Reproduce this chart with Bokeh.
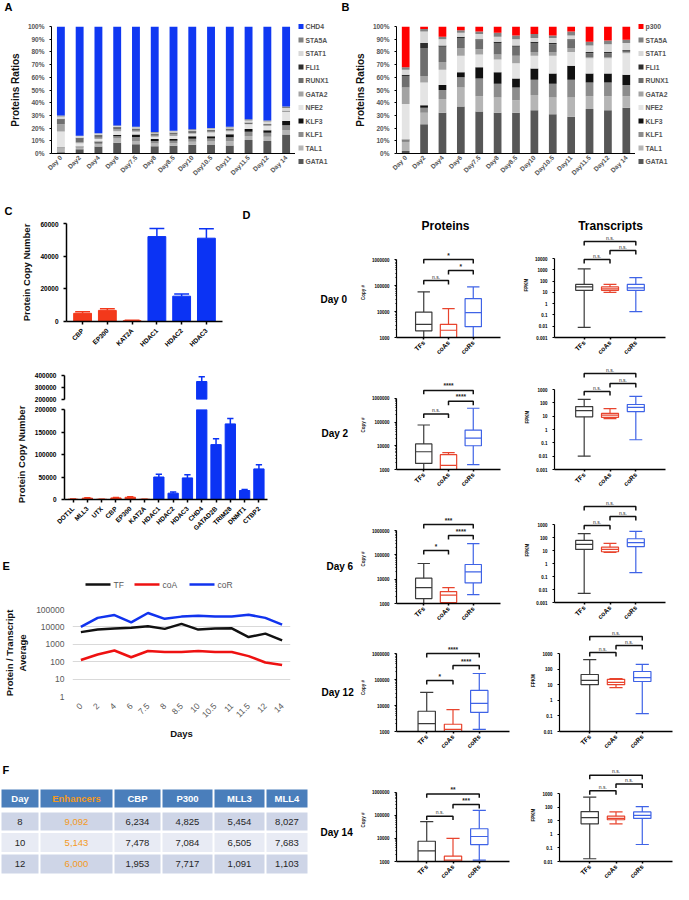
import math
from bokeh.plotting import figure
from bokeh.layouts import row, column
from bokeh.models import (Range1d, FactorRange, FixedTicker, CustomJSTickFormatter,
                          NumeralTickFormatter, Label, ColumnDataSource)
from bokeh.embed import file_html
from bokeh.resources import INLINE
from bokeh.core.properties import value

FONT = "Liberation Sans"

# ---------------- data : panels A / B ----------------
DAYS_AB = ["Day 0", "Day2", "Day4", "Day6", "Day7.5", "Day8", "Day8.5", "Day10",
           "Day10.5", "Day11", "Day11.5", "Day12", "Day 14"]
TF_NAMES = ["GATA1", "TAL1", "KLF1", "KLF3", "NFE2", "GATA2", "RUNX1", "FLI1", "STAT1", "STA5A"]
TF_COLORS = ["#575757", "#b5b5b5", "#8c8c8c", "#111111", "#e4e4e4", "#a3a3a3",
             "#6e6e6e", "#2e2e2e", "#d8d8d8", "#828282"]

A_GATA1 = [0.9, 3.3, 5.6, 8.4, 7.2, 5.7, 6.2, 6.9, 6.7, 6.3, 10.7, 9.9, 14.9]
A_TAL1 = [3.1, 1.3, 1.9, 3.4, 2.6, 2.1, 1.9, 2.4, 2.8, 3.3, 3.1, 3.2, 3.7]
A_KLF1 = [0.7, 0.6, 1.2, 1.8, 3.1, 2.0, 1.9, 2.4, 2.4, 3.1, 3.4, 3.2, 3.7]
A_KLF3 = [0.2, 0.3, 0.7, 0.9, 2.0, 1.6, 1.4, 1.8, 1.7, 2.4, 2.1, 2.0, 3.3]
A_NFE2 = [12.4, 2.6, 2.1, 3.0, 2.2, 1.8, 2.3, 2.0, 3.0, 2.4, 3.7, 3.5, 7.0]
A_GATA2 = [5.7, 0.7, 1.0, 1.4, 0.9, 0.7, 1.2, 0.6, 0.6, 0.7, 0.3, 0.3, 0.4]
A_RUNX1 = [4.0, 3.1, 2.1, 1.8, 1.5, 1.6, 1.4, 1.4, 1.3, 1.3, 0.9, 0.9, 0.4]
A_FLI1 = [0.4, 0.6, 0.2, 0.2, 0.2, 0.2, 0.2, 0.2, 0.2, 0.2, 0.3, 0.3, 0.2]
A_STAT1 = [1.8, 1.3, 0.9, 0.7, 0.9, 0.7, 1.0, 0.6, 0.9, 0.7, 1.5, 1.8, 2.3]
A_STA5A = [0.8, 0.2, 0.3, 0.4, 0.4, 0.6, 0.5, 0.7, 0.4, 0.6, 1.0, 0.9, 1.1]
A_CHD4 = [70, 86, 84, 78, 79, 83, 82, 81, 80, 79, 73, 74, 63]

B_GATA1 = [2, 23, 32, 37, 33, 32, 32, 34, 31, 29, 35, 34, 36]
B_TAL1 = [7, 9, 11, 15, 12, 12, 10, 12, 13, 15, 10, 11, 9]
B_KLF1 = [1.5, 4, 7, 8, 14, 11, 10, 12, 11, 14, 11, 11, 9]
B_KLF3 = [0.5, 2, 4, 4, 9, 9, 7, 9, 8, 11, 7, 7, 8]
B_NFE2 = [28, 18, 12, 13, 10, 10, 12, 10, 14, 11, 12, 12, 17]
B_GATA2 = [13, 5, 6, 6, 4, 4, 6, 3, 3, 3, 1, 1, 1]
B_RUNX1 = [9, 22, 12, 8, 7, 9, 7, 7, 6, 6, 3, 3, 1]
B_FLI1 = [1, 4, 1, 1, 1, 1, 1, 1, 1, 1, 1, 1, 0.5]
B_STAT1 = [4, 9, 5, 3, 4, 4, 5, 3, 4, 3, 5, 6, 5.5]
B_STA5A = [2, 2, 2, 2, 2, 3, 3, 3, 2, 3, 3, 3, 2.5]
B_P300 = [32, 2, 8, 3, 4, 5, 7, 6, 7, 4, 12, 11, 10.5]

# ---------------- data : panel C ----------------
C_TOP_NAMES = ["CBP", "EP300", "KAT2A", "HDAC1", "HDAC2", "HDAC3"]
C_TOP_VALS = [5000, 6800, 500, 52000, 15500, 51000]
C_TOP_ERR = [1000, 1000, 200, 5000, 1300, 5800]
C_TOP_CLASS = ["coA", "coA", "coA", "coR", "coR", "coR"]

C_BOT_NAMES = ["DOT1L", "MLL3", "UTX", "CBP", "EP300", "KAT2A", "HDAC1", "HDAC2", "HDAC3",
               "CHD4", "GATAD2B", "TRIM28", "DNMT1", "CTBP2"]
C_BOT_VALS = [600, 3000, 500, 3500, 5000, 500, 50000, 14000, 48000, 350000, 122000, 168000, 20000, 68000]
C_BOT_ERR = [300, 1000, 200, 800, 1200, 200, 6000, 2500, 7000, 40000, 13000, 12000, 2000, 9000]
C_BOT_CLASS = ["coA"] * 6 + ["coR"] * 8

# ---------------- data : panel E ----------------
E_DAYS = ["0", "2", "4", "6", "7.5", "8", "8.5", "10", "10.5", "11", "11.5", "12", "14"]
E_SERIES = ["TF", "coA", "coR"]
E_TF = [5000, 7000, 8000, 9000, 11000, 7700, 15000, 7000, 8000, 8300, 2600, 4100, 1700]
E_COA = [125, 260, 440, 180, 410, 360, 360, 410, 360, 360, 210, 90, 65]
E_COR = [10000, 33000, 48000, 18000, 63000, 29000, 39000, 44000, 39000, 39000, 50000, 33000, 13500]

# ---------------- data : panel F ----------------
F_HEAD = ["Day", "Enhancers", "CBP", "P300", "MLL3", "MLL4"]
F_DAY = ["8", "10", "12"]
F_ENH = ["9,092", "5,143", "6,000"]
F_CBP = ["6,234", "7,478", "1,953"]
F_P300 = ["4,825", "7,084", "7,717"]
F_MLL3 = ["5,454", "6,505", "1,091"]
F_MLL4 = ["8,027", "7,683", "1,103"]

# ---------------- data : panel D (whisker low, q1, median, q3, whisker high) ----------------
GROUPS = ["TFs", "coAs", "coRs"]
D_DAYS = ["Day 0", "Day 2", "Day 6", "Day 12", "Day 14"]
P_DAY0 = [(500, 1800, 3200, 9500, 57000), (500, 1000, 1900, 3200, 13000), (1000, 2600, 9000, 31000, 88000)]
P_DAY2 = [(500, 1800, 5600, 12000, 75000), (500, 1000, 1500, 4200, 5100), (1600, 10000, 21000, 46000, 380000)]
P_DAY6 = [(500, 1600, 4500, 11000, 44000), (500, 1100, 2200, 3100, 4500), (2300, 7000, 20000, 40000, 290000)]
P_DAY12 = [(500, 1000, 2000, 6000, 32000), (500, 1000, 1200, 1900, 7000), (1200, 5400, 12000, 38000, 170000)]
P_DAY14 = [(500, 1000, 2900, 7500, 53000), (500, 1000, 1150, 1700, 10000), (1150, 5400, 12000, 26000, 160000)]
T_DAY0 = [(0.008, 15, 30, 50, 1200), (10, 15, 20, 30, 50), (0.2, 15, 25, 50, 200)]
T_DAY2 = [(0.01, 9, 26, 52, 180), (6.6, 8, 12, 16, 37), (0.17, 22, 45, 75, 300)]
T_DAY6 = [(0.005, 12, 30, 60, 200), (7, 8, 12, 18, 35), (0.2, 20, 40, 80, 300)]
T_DAY12 = [(0.005, 10, 19, 45, 400), (6.5, 10, 14, 22, 25), (0.14, 16, 28, 70, 200)]
T_DAY14 = [(0.016, 6, 17, 48, 550), (6, 12, 15, 22, 45), (0.18, 15, 25, 45, 110)]
# significance: TFs-coRs, coAs-coRs, TFs-coAs
SIG_P_DAY0 = ["*", "*", "n.s."]
SIG_P_DAY2 = ["****", "****", "n.s."]
SIG_P_DAY6 = ["***", "****", "*"]
SIG_P_DAY12 = ["****", "****", "*"]
SIG_P_DAY14 = ["**", "***", "n.s."]
SIG_T = ["n.s.", "n.s.", "n.s."]

RED = "#f3391b"
BLUE = "#0b33f4"
CLASS_COLOR = {"coA": RED, "coR": BLUE}
GROUP_COLORS = ["#3a3a3a", "#e8442e", "#3f63e6"]
E_COLORS = ["#111111", "#ee1111", "#1133ee"]


def base_fig(w, h, bl, br, bt, bb, xr, yr, **kw):
    p = figure(width=w, height=h, x_range=xr, y_range=yr, output_backend="svg",
               toolbar_location=None, min_border_left=bl, min_border_right=br,
               min_border_top=bt, min_border_bottom=bb, frame_align=False, **kw)
    p.outline_line_color = None
    p.grid.visible = False
    return p


def text_fig(w, h, items):
    """Blank figure whose frame is the whole canvas; coordinates are pixels from top-left."""
    p = base_fig(w, h, 0, 0, 0, 0, Range1d(0, w), Range1d(h, 0),
                 x_axis_location=None, y_axis_location=None)
    for (x, y, t, size, align) in items:
        p.text(x=[x], y=[y], text=[t], text_font=value(FONT), text_font_size=f"{size}px",
               text_font_style="bold", text_color="#000000", text_align=align,
               text_baseline="middle")
    return p


def style_axis(ax, size=6.5, bold=True, color="#000000", lw=1.2, tick_out=3, lab_color=None):
    ax.major_label_text_font = FONT
    ax.major_label_text_font_size = f"{size}px"
    ax.major_label_text_font_style = "bold" if bold else "normal"
    ax.major_label_text_color = lab_color or color
    ax.axis_line_width = lw
    ax.axis_line_color = color
    ax.major_tick_line_color = color
    ax.major_tick_line_width = lw
    ax.major_tick_out = tick_out
    ax.major_tick_in = 0
    ax.minor_tick_line_color = None
    ax.axis_label_text_font = FONT
    ax.axis_label_text_font_style = "bold"
    ax.axis_label_text_color = "#111111"


# ---------------- A / B ----------------
def stack_panel(series, top_name, top_vals, top_color, w, bl):
    names = TF_NAMES + [top_name]
    data = {"day": DAYS_AB}
    for n, s in zip(names, series + [top_vals]):
        data[n] = s
    src = ColumnDataSource(data)
    p = base_fig(w, 165, bl, 0, 10, 24, FactorRange(factors=DAYS_AB), Range1d(0, 100))
    p.vbar_stack(names, x="day", width=0.42, fill_color=TF_COLORS + [top_color],
                 line_color=None, source=src)
    style_axis(p.yaxis[0], size=6.5, color="#000000", lw=1, tick_out=2, lab_color="#555555")
    p.yaxis.ticker = FixedTicker(ticks=list(range(0, 101, 10)))
    p.yaxis.formatter = CustomJSTickFormatter(code="return tick + '%';")
    p.yaxis.axis_label = "Proteins Ratios"
    p.yaxis.axis_label_text_font_size = "10px"
    p.yaxis.axis_label_standoff = 4
    style_axis(p.xaxis[0], size=6.5, color="#000000", lw=1, tick_out=0, lab_color="#555555")
    p.xaxis.major_label_orientation = math.pi / 4
    p.xaxis.major_label_standoff = 3
    return p


def legend_fig(w, h, names, colors, x0, y0, step):
    """Legend column drawn in pixel coordinates, first item on top."""
    p = base_fig(w, h, 0, 0, 0, 0, Range1d(0, w), Range1d(h, 0),
                 x_axis_location=None, y_axis_location=None)
    ys = [y0 + i * step for i in range(len(names))]
    p.rect(x=[x0 + 2.5] * len(names), y=ys, width=5, height=5, fill_color=colors, line_color=None)
    p.text(x=[x0 + 7] * len(names), y=ys, text=names, text_font=value(FONT),
           text_font_size="6.8px", text_font_style="bold", text_color="#555555",
           text_align="left", text_baseline="middle")
    return p


strip_top = text_fig(673, 16, [(4, 6, "A", 11, "left"), (341, 6, "B", 11, "left")])
pA = stack_panel([A_GATA1, A_TAL1, A_KLF1, A_KLF3, A_NFE2, A_GATA2, A_RUNX1, A_FLI1, A_STAT1, A_STA5A],
                 "CHD4", A_CHD4, "#1038f2", 295, 51)
legA = legend_fig(42, 165, (TF_NAMES + ["CHD4"])[::-1], (TF_COLORS + ["#1038f2"])[::-1], 3, 10, 13.5)
pB = stack_panel([B_GATA1, B_TAL1, B_KLF1, B_KLF3, B_NFE2, B_GATA2, B_RUNX1, B_FLI1, B_STAT1, B_STA5A],
                 "p300", B_P300, "#ff0000", 298, 59)
legB = legend_fig(38, 165, (TF_NAMES + ["p300"])[::-1], (TF_COLORS + ["#ff0000"])[::-1], 3, 10, 13.5)


# ---------------- C ----------------
def bar_glyphs(p, names, vals, errs, classes, cap=0.22, min_val=None):
    idx = [i for i, v in enumerate(vals) if min_val is None or v > min_val]
    xs = idx
    cols = [CLASS_COLOR[classes[i]] for i in idx]
    vv = [vals[i] for i in idx]
    tops = [vals[i] + errs[i] for i in idx]
    src = ColumnDataSource(dict(x=xs, v=vv, t=tops, c=cols,
                                x0=[x - cap for x in xs], x1=[x + cap for x in xs]))
    p.segment(x0="x", x1="x", y0="v", y1="t", line_color="c", line_width=1.5, source=src)
    p.segment(x0="x0", x1="x1", y0="t", y1="t", line_color="c", line_width=1.5, source=src)
    p.vbar(x="x", top="v", bottom=0, width=0.72, fill_color="c", line_color="c", source=src)
    return list(range(len(names)))


strip_C = text_fig(312, 40, [(4, 29, "C", 11, "left"), (242, 33, "D", 11, "left")])

pCt = base_fig(312, 133, 66, 90, 2, 33, Range1d(-0.65, 5.65), Range1d(0, 60000))
xs_top = bar_glyphs(pCt, C_TOP_NAMES, C_TOP_VALS, C_TOP_ERR, C_TOP_CLASS, cap=0.3)
style_axis(pCt.yaxis[0], size=6.5, lw=1.5)
pCt.yaxis.ticker = FixedTicker(ticks=[0, 20000, 40000, 60000])
pCt.yaxis.formatter = NumeralTickFormatter(format="0")
pCt.yaxis.axis_label = "Protein Copy Number"
pCt.yaxis.axis_label_text_font_size = "9.5px"
style_axis(pCt.xaxis[0], size=6.5, lw=1.5, tick_out=3)
pCt.xaxis.ticker = FixedTicker(ticks=xs_top)
pCt.xaxis.major_label_overrides = {i: n for i, n in enumerate(C_TOP_NAMES)}
pCt.xaxis.major_label_orientation = math.pi / 4

xr_bot = Range1d(-0.6, 13.6)
pCu = base_fig(312, 48, 64, 45, 19, 3, xr_bot, Range1d(200000, 416667), x_axis_location=None)
bar_glyphs(pCu, C_BOT_NAMES, C_BOT_VALS, C_BOT_ERR, C_BOT_CLASS, min_val=200000)
style_axis(pCu.yaxis[0], size=6.5, lw=1.5)
pCu.yaxis.ticker = FixedTicker(ticks=[200000, 300000, 400000])
pCu.yaxis.formatter = NumeralTickFormatter(format="0")
pCu.yaxis.bounds = (200000, 400000)

pCl = base_fig(312, 135, 64, 45, 7, 38, xr_bot, Range1d(0, 200000))
xs_bot = bar_glyphs(pCl, C_BOT_NAMES, C_BOT_VALS, C_BOT_ERR, C_BOT_CLASS)
style_axis(pCl.yaxis[0], size=6.5, lw=1.5)
pCl.yaxis.ticker = FixedTicker(ticks=[0, 50000, 100000, 150000, 200000])
pCl.yaxis.formatter = NumeralTickFormatter(format="0")
pCl.yaxis.axis_label = "Protein Copy Number"
pCl.yaxis.axis_label_text_font_size = "9.5px"
style_axis(pCl.xaxis[0], size=6.5, lw=1.5, tick_out=3)
pCl.xaxis.ticker = FixedTicker(ticks=xs_bot)
pCl.xaxis.major_label_overrides = {i: n for i, n in enumerate(C_BOT_NAMES)}
pCl.xaxis.major_label_orientation = math.pi / 4

# ---------------- E ----------------
strip_E = text_fig(312, 55, [(2, 28, "E", 11, "left")])
leg_x = [85, 134, 189]
strip_E.multi_line(xs=[[x, x + 25] for x in leg_x], ys=[[47, 47]] * 3, line_color=E_COLORS, line_width=2.5)
strip_E.text(x=[x + 28 for x in leg_x], y=[47] * 3, text=E_SERIES, text_font=value(FONT),
             text_font_size="8.5px", text_color="#595959", text_align="left", text_baseline="middle")

pE = base_fig(312, 152, 64, 22, 17, 48, FactorRange(factors=E_DAYS), Range1d(1, 100000),
              y_axis_type="log")
e_ticks = FixedTicker(ticks=[1, 10, 100, 1000, 10000, 100000])
pE.yaxis.ticker = e_ticks
pE.ygrid.ticker = e_ticks
pE.ygrid.visible = True
pE.ygrid.grid_line_color = "#d9d9d9"
pE.ygrid.grid_line_width = 1
style_axis(pE.yaxis[0], size=8.5, bold=False, color="#595959")
pE.yaxis.axis_line_color = None
pE.yaxis.major_tick_line_color = None
pE.yaxis.formatter = NumeralTickFormatter(format="0")
pE.yaxis.axis_label = "Protein / Transcript\nAverage"
pE.yaxis.axis_label_text_font_size = "9.5px"
style_axis(pE.xaxis[0], size=8.5, bold=False, color="#595959")
pE.xaxis.axis_line_color = None
pE.xaxis.major_tick_line_color = None
pE.xaxis.major_label_orientation = math.pi / 4
pE.xaxis.axis_label = "Days"
pE.xaxis.axis_label_text_font_size = "9.5px"
for vals, col in zip([E_TF, E_COA, E_COR], E_COLORS):
    pE.line(E_DAYS, vals, line_color=col, line_width=2.5)

# ---------------- F (table, pixel coordinates) ----------------
pF = base_fig(312, 140, 0, 0, 0, 0, Range1d(0, 312), Range1d(140, 0),
              x_axis_location=None, y_axis_location=None)
col_w = [39, 74, 48, 52, 52, 43]
row_y = [54, 77, 98, 119.5]
row_h = [18, 18, 19, 19]
col_c = []
acc = 0
for wv in col_w:
    col_c.append(acc + wv / 2)
    acc += wv
rows_txt = [F_HEAD] + [list(r) for r in zip(F_DAY, F_ENH, F_CBP, F_P300, F_MLL3, F_MLL4)]
row_fill = ["#4a7ebb", "#ced5e7", "#e8ebf4", "#ced5e7"]
cx, cy, cw, ch, cf, tt, tc, tsty = [], [], [], [], [], [], [], []
for ri, rtxt in enumerate(rows_txt):
    for ci, t in enumerate(rtxt):
        cx.append(col_c[ci])
        cy.append(row_y[ri])
        cw.append(col_w[ci] - 2)
        ch.append(row_h[ri])
        cf.append(row_fill[ri])
        tt.append(t)
        if ci == 1:
            tc.append("#f39a1e")
        elif ri == 0:
            tc.append("#ffffff")
        else:
            tc.append("#262626")
        tsty.append("bold" if ri == 0 else "normal")
srcF = ColumnDataSource(dict(x=cx, y=cy, w=cw, h=ch, f=cf, t=tt, c=tc, s=tsty))
pF.rect(x="x", y="y", width="w", height="h", fill_color="f", line_color=None, source=srcF)
pF.text(x="x", y="y", text="t", text_color="c", text_font_style="s", text_font=value(FONT),
        text_font_size="9.5px", text_align="center", text_baseline="middle", source=srcF)
pF.text(x=[2], y=[25], text=["F"], text_font=value(FONT), text_font_size="11px",
        text_font_style="bold", text_baseline="middle")


# ---------------- D ----------------
def box_fig(stats, sig, lo, hi, ylabel, w, h, bl, br, bt, bb, axis_off, br_offs, xpad, minor=True):
    frame_h = h - bt - bb
    llo, lhi = math.log10(lo), math.log10(hi)
    ppd = (frame_h - axis_off) / (lhi - llo)
    top = 10 ** (lhi + axis_off / ppd)
    p = base_fig(w, h, bl, br, bt, bb, Range1d(-0.5 - xpad, 2.5 + xpad), Range1d(lo, top),
                 y_axis_type="log")
    xs = list(range(len(GROUPS)))
    bw, cw = 0.33, 0.25
    src = ColumnDataSource(dict(
        x=xs, bx0=[x - bw for x in xs], bx1=[x + bw for x in xs],
        cx0=[x - cw for x in xs], cx1=[x + cw for x in xs],
        wl=[s[0] for s in stats], q1=[s[1] for s in stats], md=[s[2] for s in stats],
        q3=[s[3] for s in stats], wh=[s[4] for s in stats], c=GROUP_COLORS))
    lw = 1.2
    p.segment(x0="x", x1="x", y0="wl", y1="q1", line_color="c", line_width=lw, source=src)
    p.segment(x0="x", x1="x", y0="q3", y1="wh", line_color="c", line_width=lw, source=src)
    p.segment(x0="cx0", x1="cx1", y0="wl", y1="wl", line_color="c", line_width=lw, source=src)
    p.segment(x0="cx0", x1="cx1", y0="wh", y1="wh", line_color="c", line_width=lw, source=src)
    p.quad(left="bx0", right="bx1", bottom="q1", top="q3", fill_color=None, line_color="c",
           line_width=lw, source=src)
    p.segment(x0="bx0", x1="bx1", y0="md", y1="md", line_color="c", line_width=lw, source=src)
    pairs = [(0, 2), (1, 2), (0, 1)]
    drop = 10 ** (-4.0 / ppd)
    bxs, bys = [], []
    for (a, b), off, s in zip(pairs, br_offs, sig):
        yb = 10 ** (lhi + (axis_off - off) / ppd)
        bxs.append([a, a, b, b])
        bys.append([yb * drop, yb, yb, yb * drop])
        p.add_layout(Label(x=(a + b) / 2, y=yb, text=s, text_font=FONT,
                           text_font_size="5px" if s == "n.s." else "6.5px",
                           text_font_style="bold" if s != "n.s." else "normal",
                           text_align="center", text_baseline="bottom", y_offset=1,
                           text_color="#222222"))
    p.multi_line(xs=bxs, ys=bys, line_color="#111111", line_width=1.5)
    decs = list(range(int(round(llo)), int(round(lhi)) + 1))
    ticks = [10.0 ** d for d in decs]
    minors = [k * 10.0 ** d for d in decs[:-1] for k in range(2, 10)] if minor else []
    style_axis(p.yaxis[0], size=4.5, lw=1.2, tick_out=2)
    p.yaxis.ticker = FixedTicker(ticks=ticks, minor_ticks=minors)
    p.yaxis.bounds = (lo, hi)
    p.yaxis.minor_tick_line_color = "#000000"
    p.yaxis.minor_tick_out = 1
    p.yaxis.minor_tick_in = 0
    p.yaxis.formatter = CustomJSTickFormatter(code="return String(Number(tick.toPrecision(3)));")
    p.yaxis.axis_label = ylabel
    p.yaxis.axis_label_text_font_size = "4.5px"
    p.yaxis.axis_label_standoff = 3
    style_axis(p.xaxis[0], size=6.5, lw=1.5, tick_out=2)
    p.xaxis.ticker = FixedTicker(ticks=xs)
    p.xaxis.major_label_overrides = {i: g for i, g in enumerate(GROUPS)}
    p.xaxis.major_label_orientation = math.pi / 4
    p.xaxis.major_label_standoff = 2
    return p


strip_D = text_fig(361, 51, [(133, 44, "Proteins", 12, "center"), (298, 44, "Transcripts", 12, "center")])

day0 = text_fig(45, 130, [(8, 67, D_DAYS[0], 10, "left")])
P0 = box_fig(P_DAY0, SIG_P_DAY0, 1e3, 1e6, "Copy #", 160, 130, 36, 17, 15, 25, 12, [12, 23, 33], 0.6)
T0 = box_fig(T_DAY0, SIG_T, 1e-3, 1e4, "FPKM", 156, 130, 37, 8, 0, 25, 26, [9, 18, 27], 0.65, minor=False)

day2 = text_fig(45, 130, [(9, 71, D_DAYS[1], 10, "left")])
P2 = box_fig(P_DAY2, SIG_P_DAY2, 1e3, 1e6, "Copy #", 160, 130, 36, 17, 18, 22, 18, [10, 21, 34], 0.6)
T2 = box_fig(T_DAY2, SIG_T, 1e-3, 1e3, "FPKM", 156, 130, 37, 8, 2, 23, 25, [9, 19, 27], 0.65, minor=False)

day6 = text_fig(45, 136, [(14, 74, D_DAYS[2], 10, "left")])
P6 = box_fig(P_DAY6, SIG_P_DAY6, 1e3, 1e6, "Copy #", 160, 136, 36, 17, 22, 25, 16, [10, 21, 36], 0.6)
T6 = box_fig(T_DAY6, SIG_T, 1e-3, 1e3, "FPKM", 156, 136, 37, 8, 5, 26, 27, [9, 19, 28], 0.65, minor=False)

day12 = text_fig(45, 136, [(9, 64, D_DAYS[3], 10, "left")])
P12 = box_fig(P_DAY12, SIG_P_DAY12, 1e3, 1e6, "Copy #", 160, 136, 37, 8, 15, 33, 10, [10, 22, 37], 0.65)
T12 = box_fig(T_DAY12, SIG_T, 1e-2, 1e3, "FPKM", 156, 136, 42, 1, 1, 33, 24, [7, 16, 23], 0.65, minor=False)

day14 = text_fig(45, 120, [(8, 68, D_DAYS[4], 10, "left")])
P14 = box_fig(P_DAY14, SIG_P_DAY14, 1e3, 1e6, "Copy #", 160, 120, 37, 8, 14, 20, 14, [16, 27, 39], 0.65)
T14 = box_fig(T_DAY14, SIG_T, 1e-2, 1e3, "FPKM", 156, 120, 42, 1, 4, 20, 26, [7, 16, 23], 0.65, minor=False)

left = column(strip_C, pCt, pCu, pCl, strip_E, pE, pF)
right = column(strip_D, row(day0, P0, T0), row(day2, P2, T2), row(day6, P6, T6),
               row(day12, P12, T12), row(day14, P14, T14))
page = column(strip_top, row(pA, legA, pB, legB), row(left, right))

open("out.html", "w").write(file_html(page, INLINE))
